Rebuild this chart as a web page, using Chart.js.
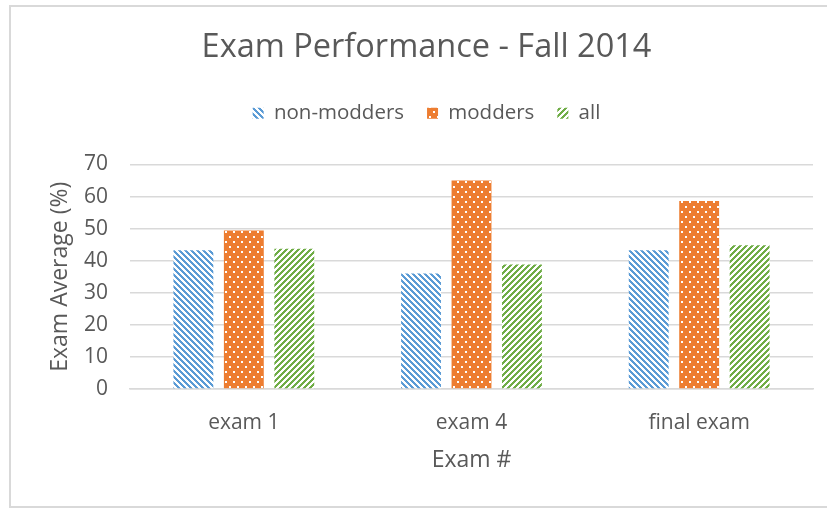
<!DOCTYPE html>
<html>
<head>
<meta charset="utf-8">
<script src="https://cdn.jsdelivr.net/npm/chart.js@4.4.1/dist/chart.umd.min.js"></script>
<style>
  html, body { margin: 0; padding: 0; background: #fff; overflow: hidden; }
  #wrap { width: 827px; height: 510px; position: relative; overflow: hidden; }
</style>
</head>
<body>
<div id="wrap"><canvas id="chart" width="850" height="510"></canvas></div>
<script>
// Exam Performance - Fall 2014
const categories = ['exam 1', 'exam 4', 'final exam'];
const nonModders = [43.3, 36.0, 43.3];
const modders = [49.4, 65.0, 58.6];
const allStudents = [43.7, 38.8, 44.8];
const yTicks = [0, 10, 20, 30, 40, 50, 60, 70];

const TEXT = '#595959';
const GRID = '#d9d9d9';
const FONT = "'Open Sans', sans-serif";

// --- hatch patterns, Excel style ---
function stripes(color, dir) {
  const c = document.createElement('canvas');
  c.width = 6; c.height = 6;
  const g = c.getContext('2d');
  g.fillStyle = '#fff';
  g.fillRect(0, 0, 6, 6);
  g.fillStyle = color;
  for (let y = 0; y < 6; y++) {
    for (let k = 0; k < 3; k++) {
      let x = dir > 0 ? (y + k) % 6 : (6 - y + k) % 6;
      g.fillRect(x, y, 1, 1);
    }
  }
  return g.createPattern(c, 'repeat');
}

function dots(color) {
  const c = document.createElement('canvas');
  c.width = 8; c.height = 10;
  const g = c.getContext('2d');
  g.fillStyle = color;
  g.fillRect(0, 0, 8, 10);
  g.fillStyle = '#fff';
  g.fillRect(1, 1, 2, 2);
  g.fillRect(5, 6, 2, 2);
  return g.createPattern(c, 'repeat');
}

const frame = {
  id: 'frame',
  beforeDraw(chart) {
    const ctx = chart.ctx;
    ctx.save();
    ctx.strokeStyle = GRID;
    ctx.lineWidth = 2;
    ctx.strokeRect(10, 6, 833, 501);
    ctx.restore();
  }
};

// legend box needs to be taller than Chart.js makes it
const legendGap = {
  id: 'legendGap',
  beforeInit(chart) {
    const fit = chart.legend.fit;
    chart.legend.fit = function () {
      fit.bind(chart.legend)();
      this.height += 31;
    };
  }
};

function init() {
  const ctx = document.getElementById('chart').getContext('2d');
  new Chart(ctx, {
    type: 'bar',
    data: {
      labels: categories,
      datasets: [
        { label: 'non-modders', data: nonModders, backgroundColor: stripes('#5b9bd5', 1) },
        { label: 'modders', data: modders, backgroundColor: dots('#ed7d31') },
        { label: 'all', data: allStudents, backgroundColor: stripes('#70ad47', -1) }
      ]
    },
    options: {
      responsive: false,
      animation: false,
      layout: { padding: { left: 12, right: 9, top: 0, bottom: 10 } },
      datasets: { bar: { categoryPercentage: 0.665, barPercentage: 0.79 } },
      plugins: {
        title: {
          display: true,
          text: 'Exam Performance - Fall 2014',
          color: TEXT,
          font: { family: FONT, size: 32.5, weight: 'normal', lineHeight: 1.2 },
          padding: { top: 28, bottom: 13 }
        },
        legend: {
          position: 'top',
          labels: {
            color: TEXT,
            font: { family: FONT, size: 20.5 },
            boxWidth: 11,
            boxHeight: 11,
            padding: 23
          }
        },
        tooltip: { enabled: false }
      },
      scales: {
        x: {
          grid: { display: false, drawTicks: false },
          border: { color: GRID, width: 1.5 },
          ticks: { color: TEXT, font: { family: FONT, size: 21 }, padding: 21 },
          title: {
            display: true, text: 'Exam #', color: TEXT,
            font: { family: FONT, size: 23 }, padding: { top: 0, bottom: 26 }
          },
          afterFit: s => { s.height = 111; }
        },
        y: {
          min: 0, max: 70,
          grid: { color: GRID, lineWidth: 1.5, drawTicks: false },
          border: { display: false },
          afterBuildTicks: s => { s.ticks = yTicks.map(v => ({ value: v })); },
          ticks: { color: TEXT, font: { family: FONT, size: 21 }, padding: 22 },
          title: {
            display: true, text: 'Exam Average (%)', color: TEXT,
            font: { family: FONT, size: 23 }, padding: { top: 35, bottom: 0 }
          },
          afterFit: s => { s.width = 118; }
        },
        // empty spacer on the right so the plot ends where the reference does
        spacer: {
          type: 'linear',
          position: 'right',
          display: true,
          grid: { display: false, drawTicks: false },
          border: { display: false },
          ticks: { display: false },
          afterFit: s => { s.width = 28; }
        }
      }
    },
    plugins: [frame, legendGap]
  });
}

document.addEventListener('DOMContentLoaded', init);
</script>
</body>
</html>
